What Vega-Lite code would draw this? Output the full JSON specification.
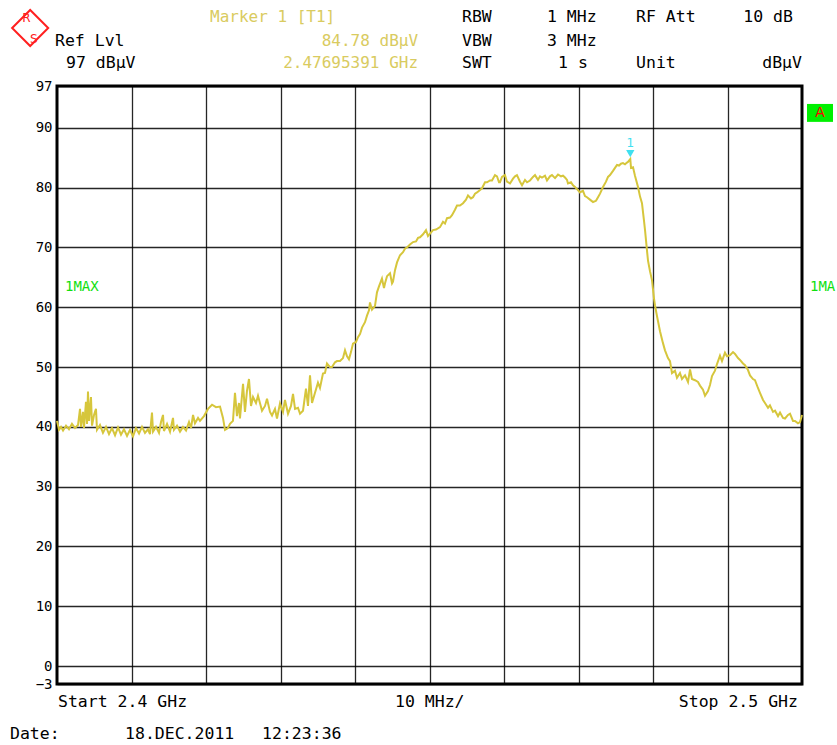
{
  "$schema": "https://vega.github.io/schema/vega-lite/v6.json",
  "width": 745,
  "height": 598,
  "autosize": {"type": "none"},
  "padding": {"left": 57, "top": 86, "right": 35, "bottom": 61},
  "background": "white",
  "config": {
    "view": {"stroke": "black", "strokeWidth": 3},
    "text": {"font": "DejaVu Sans Mono", "fontSize": 15}
  },
  "datasets": {
    "trace": [
      {"f":2400.0,"v":41.0},{"f":2400.27,"v":39.5},{"f":2400.54,"v":40.0},{"f":2400.81,"v":39.4},{"f":2401.21,"v":40.2},{"f":2401.61,"v":39.6},{"f":2402.01,"v":40.5},{"f":2402.42,"v":39.8},{"f":2402.82,"v":40.3},{"f":2403.09,"v":43.0},{"f":2403.22,"v":40.0},{"f":2403.49,"v":42.5},{"f":2403.62,"v":39.8},{"f":2403.89,"v":44.2},{"f":2404.03,"v":40.5},{"f":2404.16,"v":45.9},{"f":2404.3,"v":41.0},{"f":2404.56,"v":45.0},{"f":2404.7,"v":40.2},{"f":2404.97,"v":42.0},{"f":2405.23,"v":43.0},{"f":2405.37,"v":39.5},{"f":2405.77,"v":40.3},{"f":2406.17,"v":39.0},{"f":2406.58,"v":40.0},{"f":2406.98,"v":38.8},{"f":2407.38,"v":39.8},{"f":2407.79,"v":38.6},{"f":2408.19,"v":39.9},{"f":2408.59,"v":38.7},{"f":2408.99,"v":39.6},{"f":2409.4,"v":38.5},{"f":2409.8,"v":39.5},{"f":2410.2,"v":38.4},{"f":2410.6,"v":39.8},{"f":2411.01,"v":38.9},{"f":2411.41,"v":40.0},{"f":2411.81,"v":39.0},{"f":2412.21,"v":39.6},{"f":2412.48,"v":38.8},{"f":2412.75,"v":42.4},{"f":2412.89,"v":39.2},{"f":2413.29,"v":40.0},{"f":2413.69,"v":39.0},{"f":2413.96,"v":40.8},{"f":2414.23,"v":42.0},{"f":2414.36,"v":39.3},{"f":2414.77,"v":40.5},{"f":2415.17,"v":39.2},{"f":2415.57,"v":41.5},{"f":2415.7,"v":39.5},{"f":2416.11,"v":40.2},{"f":2416.51,"v":39.2},{"f":2416.91,"v":40.0},{"f":2417.32,"v":39.4},{"f":2417.72,"v":40.8},{"f":2417.99,"v":39.8},{"f":2418.26,"v":42.0},{"f":2418.52,"v":40.6},{"f":2418.93,"v":41.5},{"f":2419.19,"v":41.0},
      {"f":2419.73,"v":41.8},{"f":2420.27,"v":43.0},{"f":2420.81,"v":43.7},{"f":2421.34,"v":43.3},{"f":2421.88,"v":43.4},{"f":2422.28,"v":41.5},{"f":2422.55,"v":39.5},{"f":2422.95,"v":39.8},{"f":2423.22,"v":40.5},{"f":2423.62,"v":41.0},{"f":2423.89,"v":45.7},{"f":2424.16,"v":41.8},{"f":2424.43,"v":44.0},{"f":2424.56,"v":41.4},{"f":2424.97,"v":47.2},{"f":2425.23,"v":42.5},{"f":2425.5,"v":46.0},{"f":2425.77,"v":48.0},{"f":2426.04,"v":43.5},{"f":2426.31,"v":45.0},{"f":2426.71,"v":44.0},{"f":2426.98,"v":45.2},{"f":2427.52,"v":42.7},{"f":2427.92,"v":43.5},{"f":2428.19,"v":44.7},{"f":2428.59,"v":42.5},{"f":2428.86,"v":41.9},{"f":2429.26,"v":43.0},{"f":2429.53,"v":41.4},{"f":2429.93,"v":43.9},{"f":2430.34,"v":42.5},{"f":2430.6,"v":44.5},{"f":2431.01,"v":42.2},{"f":2431.41,"v":43.5},{"f":2431.68,"v":45.5},{"f":2431.95,"v":43.0},{"f":2432.35,"v":43.2},{"f":2432.62,"v":42.2},{"f":2433.02,"v":42.7},{"f":2433.42,"v":46.4},{"f":2433.69,"v":43.5},{"f":2433.96,"v":48.6},{"f":2434.23,"v":44.0},{"f":2434.63,"v":45.7},{"f":2435.03,"v":47.4},{"f":2435.3,"v":46.5},{"f":2435.7,"v":48.9},{"f":2435.97,"v":49.0},{"f":2436.24,"v":50.6},{"f":2436.64,"v":50.0},{"f":2436.91,"v":50.0},{"f":2437.32,"v":50.8},{"f":2437.58,"v":51.0},{"f":2437.99,"v":51.0},{"f":2438.39,"v":51.5},{"f":2438.66,"v":52.8},{"f":2438.93,"v":51.8},{"f":2439.19,"v":51.3},{"f":2439.46,"v":52.5},{"f":2439.73,"v":53.9},{"f":2440.13,"v":54.2},{"f":2440.4,"v":55.0},{"f":2440.67,"v":55.5},{"f":2440.94,"v":56.6},{"f":2441.34,"v":57.5},{"f":2441.61,"v":58.6},{"f":2441.88,"v":59.5},{"f":2442.01,"v":60.8},{"f":2442.28,"v":59.6},{"f":2442.42,"v":59.8},{"f":2442.68,"v":60.2},{"f":2442.95,"v":62.5},{"f":2443.22,"v":63.5},{"f":2443.62,"v":64.8},{"f":2443.89,"v":63.2},{"f":2444.03,"v":64.0},{"f":2444.3,"v":65.2},{"f":2444.7,"v":65.7},{"f":2444.97,"v":64.0},{"f":2445.1,"v":64.3},{"f":2445.37,"v":66.2},{"f":2445.64,"v":67.5},{"f":2446.04,"v":68.7},{"f":2446.44,"v":69.2},{"f":2446.71,"v":69.8},{"f":2446.98,"v":70.0},{"f":2447.38,"v":70.5},{"f":2447.79,"v":70.9},{"f":2448.19,"v":71.0},{"f":2448.46,"v":71.6},{"f":2448.72,"v":71.7},{"f":2449.13,"v":72.2},{"f":2449.53,"v":72.9},{"f":2449.8,"v":71.9},{"f":2450.07,"v":72.3},{"f":2450.47,"v":72.9},{"f":2450.87,"v":73.0},{"f":2451.41,"v":73.4},{"f":2451.81,"v":74.3},{"f":2452.08,"v":74.0},{"f":2452.35,"v":74.9},{"f":2452.75,"v":75.0},{"f":2453.02,"v":75.4},{"f":2453.42,"v":76.3},{"f":2453.69,"v":77.0},{"f":2454.09,"v":77.0},{"f":2454.5,"v":77.4},{"f":2454.9,"v":78.0},{"f":2455.17,"v":78.7},{"f":2455.57,"v":78.2},{"f":2455.84,"v":78.4},{"f":2456.11,"v":79.0},{"f":2456.38,"v":79.2},{"f":2456.78,"v":79.6},{"f":2457.05,"v":79.9},{"f":2457.45,"v":80.9},{"f":2457.72,"v":80.9},{"f":2458.12,"v":81.2},{"f":2458.39,"v":81.2},{"f":2458.79,"v":82.1},{"f":2459.06,"v":81.9},{"f":2459.33,"v":80.9},{"f":2459.46,"v":80.9},{"f":2459.73,"v":81.8},{"f":2460.13,"v":82.1},{"f":2460.4,"v":81.0},{"f":2460.81,"v":80.7},{"f":2461.21,"v":81.5},{"f":2461.48,"v":81.9},{"f":2461.74,"v":82.1},{"f":2462.15,"v":81.0},{"f":2462.42,"v":80.4},{"f":2462.82,"v":81.3},{"f":2463.09,"v":80.9},{"f":2463.49,"v":81.2},{"f":2463.89,"v":81.8},{"f":2464.16,"v":82.1},{"f":2464.56,"v":81.3},{"f":2464.83,"v":81.9},{"f":2465.1,"v":81.7},{"f":2465.5,"v":82.0},{"f":2465.77,"v":81.2},{"f":2466.17,"v":81.9},{"f":2466.44,"v":82.1},{"f":2466.85,"v":81.6},{"f":2467.25,"v":82.2},{"f":2467.65,"v":81.9},{"f":2467.92,"v":82.0},{"f":2468.19,"v":81.7},{"f":2468.46,"v":81.3},{"f":2468.59,"v":80.7},{"f":2468.99,"v":80.9},{"f":2469.26,"v":80.4},{"f":2469.53,"v":80.1},{"f":2469.93,"v":79.6},{"f":2470.2,"v":79.2},{"f":2470.6,"v":79.5},{"f":2470.87,"v":78.6},{"f":2471.14,"v":78.4},{"f":2471.54,"v":78.0},{"f":2471.95,"v":77.6},{"f":2472.35,"v":77.8},{"f":2472.62,"v":78.4},{"f":2472.89,"v":79.0},{"f":2473.29,"v":80.1},{"f":2473.69,"v":81.0},{"f":2473.96,"v":81.8},{"f":2474.23,"v":82.1},{"f":2474.63,"v":82.8},{"f":2474.9,"v":83.3},{"f":2475.17,"v":83.8},{"f":2475.44,"v":83.7},{"f":2475.7,"v":84.0},{"f":2475.97,"v":84.1},{"f":2476.24,"v":83.9},{"f":2476.51,"v":84.2},{"f":2476.64,"v":84.3},{"f":2476.95,"v":84.78},{"f":2477.05,"v":83.3},{"f":2477.32,"v":83.4},{"f":2477.58,"v":82.0},{"f":2477.99,"v":80.1},{"f":2478.26,"v":78.5},{"f":2478.52,"v":77.4},{"f":2478.79,"v":74.5},{"f":2478.93,"v":72.9},{"f":2479.19,"v":69.5},{"f":2479.33,"v":67.8},{"f":2479.6,"v":66.0},{"f":2479.87,"v":64.5},{"f":2480.13,"v":61.5},{"f":2480.27,"v":60.3},{"f":2480.54,"v":58.5},{"f":2480.94,"v":56.0},{"f":2481.34,"v":54.0},{"f":2481.61,"v":52.8},{"f":2482.01,"v":51.5},{"f":2482.28,"v":51.0},{"f":2482.55,"v":49.0},{"f":2482.95,"v":49.4},{"f":2483.22,"v":48.2},{"f":2483.62,"v":49.0},{"f":2483.89,"v":48.0},{"f":2484.3,"v":48.6},{"f":2484.7,"v":47.5},{"f":2484.97,"v":49.6},{"f":2485.23,"v":48.0},{"f":2485.64,"v":47.8},{"f":2486.04,"v":47.5},{"f":2486.31,"v":46.9},{"f":2486.71,"v":46.2},{"f":2486.98,"v":45.2},{"f":2487.38,"v":46.0},{"f":2487.65,"v":47.0},{"f":2487.92,"v":48.5},{"f":2488.32,"v":49.4},{"f":2488.59,"v":50.5},{"f":2488.99,"v":51.9},{"f":2489.26,"v":51.0},{"f":2489.66,"v":52.4},{"f":2489.93,"v":51.8},{"f":2490.34,"v":52.0},{"f":2490.74,"v":52.5},{"f":2491.01,"v":52.2},{"f":2491.41,"v":51.5},{"f":2491.68,"v":51.2},{"f":2492.08,"v":50.6},{"f":2492.35,"v":50.3},{"f":2492.75,"v":49.5},{"f":2493.02,"v":48.6},{"f":2493.42,"v":48.0},{"f":2493.69,"v":47.8},{"f":2494.09,"v":46.5},{"f":2494.36,"v":45.7},{"f":2494.77,"v":44.5},{"f":2495.03,"v":44.0},{"f":2495.44,"v":43.2},{"f":2495.7,"v":43.6},{"f":2496.11,"v":42.5},{"f":2496.38,"v":42.7},{"f":2496.78,"v":41.8},{"f":2497.05,"v":42.4},{"f":2497.45,"v":41.5},{"f":2497.72,"v":41.4},{"f":2498.12,"v":42.0},{"f":2498.39,"v":42.2},{"f":2498.79,"v":41.0},{"f":2499.06,"v":41.0},{"f":2499.46,"v":40.6},{"f":2499.73,"v":40.8},{"f":2500.0,"v":42.0}
    ]
  },
  "layer": [
    {
      "data": {"name": "trace"},
      "mark": {"type": "line", "color": "#d6c63c", "strokeWidth": 2, "interpolate": "linear"},
      "encoding": {
        "x": {"field": "f", "type": "quantitative", "scale": {"domain": [2400, 2500], "nice": false, "zero": false},
          "axis": {"title": null, "labels": false, "ticks": false, "domain": false, "grid": true, "values": [2410, 2420, 2430, 2440, 2450, 2460, 2470, 2480, 2490], "gridColor": "#000000", "gridOpacity": 0.85, "gridWidth": 1.3}},
        "y": {"field": "v", "type": "quantitative", "scale": {"domain": [-3, 97], "nice": false, "zero": false},
          "axis": {"title": null, "ticks": false, "domain": false, "grid": true, "values": [-3, 0, 10, 20, 30, 40, 50, 60, 70, 80, 90, 97], "gridColor": "#000000", "gridOpacity": 0.85, "gridWidth": 1.3, "labelFont": "DejaVu Sans Mono", "labelFontSize": 14, "labelColor": "#000000", "labelPadding": 5}}
      }
    },
    {
      "data": {"values": [{"f": 2476.95, "v": 85.7}]},
      "mark": {"type": "point", "shape": "triangle-down", "filled": true, "color": "#3fe0f0", "size": 70, "opacity": 1},
      "encoding": {
        "x": {"field": "f", "type": "quantitative", "scale": {"domain": [2400, 2500]}},
        "y": {"field": "v", "type": "quantitative", "scale": {"domain": [-3, 97]}}
      }
    },
    {
      "data": {"values": [{"f": 2476.95, "v": 87.4, "t": "1"}]},
      "mark": {"type": "text", "color": "#3fe0f0", "fontSize": 12, "font": "DejaVu Sans"},
      "encoding": {
        "x": {"field": "f", "type": "quantitative", "scale": {"domain": [2400, 2500]}},
        "y": {"field": "v", "type": "quantitative", "scale": {"domain": [-3, 97]}},
        "text": {"field": "t"}
      }
    },
    {
      "data": {"values": [
        {"f": 2420.54, "v": 108.5, "t": "Marker 1 [T1]"}
      ]},
      "mark": {"type": "text", "color": "#d9cb60", "align": "left", "baseline": "middle", "fontSize": 16},
      "encoding": {
        "x": {"field": "f", "type": "quantitative", "scale": {"domain": [2400, 2500]}},
        "y": {"field": "v", "type": "quantitative", "scale": {"domain": [-3, 97]}},
        "text": {"field": "t"}
      }
    },
    {
      "data": {"values": [
        {"f": 2448.46, "v": 104.6, "t": "84.78 dBµV"},
        {"f": 2448.46, "v": 100.8, "t": "2.47695391 GHz"}
      ]},
      "mark": {"type": "text", "color": "#d9cb60", "align": "right", "baseline": "middle", "fontSize": 16},
      "encoding": {
        "x": {"field": "f", "type": "quantitative", "scale": {"domain": [2400, 2500]}},
        "y": {"field": "v", "type": "quantitative", "scale": {"domain": [-3, 97]}},
        "text": {"field": "t"}
      }
    },
    {
      "data": {"values": [
        {"f": 2399.73, "v": 104.6, "t": "Ref Lvl"},
        {"f": 2401.21, "v": 100.8, "t": "97 dBµV"},
        {"f": 2454.36, "v": 108.5, "t": "RBW"},
        {"f": 2465.77, "v": 108.5, "t": "1 MHz"},
        {"f": 2477.72, "v": 108.5, "t": "RF Att"},
        {"f": 2454.36, "v": 104.6, "t": "VBW"},
        {"f": 2465.77, "v": 104.6, "t": "3 MHz"},
        {"f": 2454.36, "v": 100.8, "t": "SWT"},
        {"f": 2467.25, "v": 100.8, "t": "1 s"},
        {"f": 2477.72, "v": 100.8, "t": "Unit"},
        {"f": 2400.13, "v": -6.0, "t": "Start 2.4 GHz"},
        {"f": 2445.37, "v": -6.0, "t": "10 MHz/"},
        {"f": 2393.69, "v": -11.4, "t": "Date:"},
        {"f": 2409.13, "v": -11.4, "t": "18.DEC.2011"},
        {"f": 2427.52, "v": -11.4, "t": "12:23:36"}
      ]},
      "mark": {"type": "text", "color": "#000000", "align": "left", "baseline": "middle", "fontSize": 16.5},
      "encoding": {
        "x": {"field": "f", "type": "quantitative", "scale": {"domain": [2400, 2500]}},
        "y": {"field": "v", "type": "quantitative", "scale": {"domain": [-3, 97]}},
        "text": {"field": "t"}
      }
    },
    {
      "data": {"values": [
        {"f": 2498.79, "v": 108.5, "t": "10 dB"},
        {"f": 2500.0, "v": 100.8, "t": "dBµV"},
        {"f": 2499.46, "v": -6.0, "t": "Stop 2.5 GHz"}
      ]},
      "mark": {"type": "text", "color": "#000000", "align": "right", "baseline": "middle", "fontSize": 16.5},
      "encoding": {
        "x": {"field": "f", "type": "quantitative", "scale": {"domain": [2400, 2500]}},
        "y": {"field": "v", "type": "quantitative", "scale": {"domain": [-3, 97]}},
        "text": {"field": "t"}
      }
    },
    {
      "data": {"values": [
        {"f": 2401.07, "v": 63.4, "t": "1MAX"},
        {"f": 2501.07, "v": 63.4, "t": "1MA"}
      ]},
      "mark": {"type": "text", "color": "#10e010", "align": "left", "baseline": "middle", "fontSize": 14},
      "encoding": {
        "x": {"field": "f", "type": "quantitative", "scale": {"domain": [2400, 2500]}},
        "y": {"field": "v", "type": "quantitative", "scale": {"domain": [-3, 97]}},
        "text": {"field": "t"}
      }
    },
    {
      "data": {"values": [{"f": 2500.67, "f2": 2504.16, "v": 94.0, "v2": 91.0}]},
      "mark": {"type": "rect", "color": "#00f000"},
      "encoding": {
        "x": {"field": "f", "type": "quantitative", "scale": {"domain": [2400, 2500]}},
        "x2": {"field": "f2"},
        "y": {"field": "v", "type": "quantitative", "scale": {"domain": [-3, 97]}},
        "y2": {"field": "v2"}
      }
    },
    {
      "data": {"values": [{"f": 2502.41, "v": 92.5, "t": "A"}]},
      "mark": {"type": "text", "color": "#ff0000", "align": "center", "baseline": "middle", "fontSize": 14, "font": "DejaVu Sans"},
      "encoding": {
        "x": {"field": "f", "type": "quantitative", "scale": {"domain": [2400, 2500]}},
        "y": {"field": "v", "type": "quantitative", "scale": {"domain": [-3, 97]}},
        "text": {"field": "t"}
      }
    },
    {
      "data": {"values": [{"f": 2396.4, "v": 106.7}]},
      "mark": {"type": "point", "shape": "diamond", "filled": false, "color": "#ff2020", "strokeWidth": 2, "size": 1300, "opacity": 1},
      "encoding": {
        "x": {"field": "f", "type": "quantitative", "scale": {"domain": [2400, 2500]}},
        "y": {"field": "v", "type": "quantitative", "scale": {"domain": [-3, 97]}}
      }
    },
    {
      "data": {"values": [{"f": 2395.9, "v": 108.4, "t": "R"}, {"f": 2396.9, "v": 104.8, "t": "S"}]},
      "mark": {"type": "text", "color": "#ff2020", "align": "center", "baseline": "middle", "fontSize": 12, "font": "DejaVu Sans"},
      "encoding": {
        "x": {"field": "f", "type": "quantitative", "scale": {"domain": [2400, 2500]}},
        "y": {"field": "v", "type": "quantitative", "scale": {"domain": [-3, 97]}},
        "text": {"field": "t"}
      }
    }
  ]
}
